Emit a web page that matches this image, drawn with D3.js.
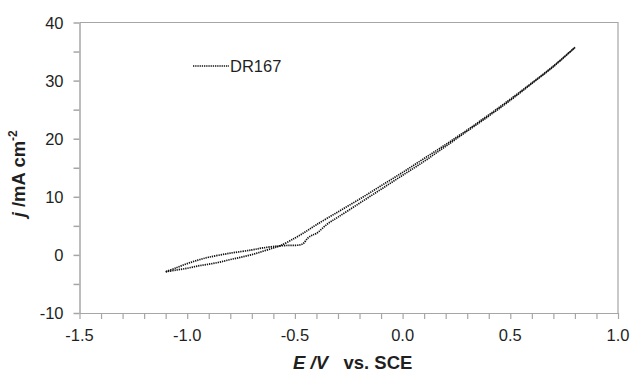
<!DOCTYPE html>
<html>
<head>
<meta charset="utf-8">
<script src="https://cdn.jsdelivr.net/npm/d3@7"></script>
<style>
  html, body { margin: 0; padding: 0; background: #fff; }
  svg { display: block; font-family: "Liberation Sans", Arial, sans-serif; }
</style>
</head>
<body>
<svg id="chart" width="634" height="381"></svg>
<script>
// Cyclic voltammogram of DR167: forward sweep (cathodic -> anodic) and return sweep
const forwardE = [-1.10, -1.05, -1.00, -0.95, -0.90, -0.85, -0.80, -0.75, -0.70, -0.65, -0.60, -0.57, -0.50, -0.45, -0.40, -0.30, -0.20, -0.10, 0.00, 0.10, 0.20, 0.30, 0.40, 0.50, 0.60, 0.70, 0.80];
const forwardJ = [-2.9, -2.6, -2.3, -1.9, -1.6, -1.25, -0.8, -0.4, 0.05, 0.6, 1.2, 1.55, 2.9, 4.0, 5.2, 7.4, 9.6, 11.9, 14.2, 16.6, 19.0, 21.5, 24.1, 26.8, 29.6, 32.5, 35.7];

const returnE = [0.80, 0.70, 0.60, 0.50, 0.40, 0.30, 0.20, 0.10, 0.00, -0.10, -0.20, -0.30, -0.35, -0.40, -0.42, -0.44, -0.46, -0.48, -0.52, -0.57, -0.65, -0.70, -0.80, -0.90, -0.95, -1.00, -1.05, -1.10];
const returnJ = [35.7, 32.4, 29.5, 26.6, 23.9, 21.3, 18.7, 16.1, 13.7, 11.3, 8.9, 6.5, 5.3, 3.7, 3.4, 2.9, 2.0, 1.7, 1.65, 1.55, 1.2, 0.85, 0.3, -0.4, -0.9, -1.5, -2.2, -2.9];

const xTicks = [-1.5, -1.0, -0.5, 0.0, 0.5, 1.0];
const yTicks = [-10, 0, 10, 20, 30, 40];
const seriesName = "DR167";

const svg = d3.select("#chart");
const margin = { left: 79.5, right: 16, top: 22.5, bottom: 68 };
const W = 634, H = 381;

const x = d3.scaleLinear().domain([-1.5, 1.0]).range([margin.left, W - margin.right]);
const y = d3.scaleLinear().domain([-10, 40]).range([H - margin.bottom, margin.top]);

const axisColor = "#a6a6a6";
const textColor = "#1f1f1f";
// plain hyphen for negative numbers
const fmtX = d => d3.format(".1f")(d).replace("\u2212", "-");

// plot frame (top and right edges)
svg.append("path")
  .attr("d", `M${x(-1.5)},${y(40)}H${x(1.0)}V${y(-10)}`)
  .attr("fill", "none").attr("stroke", axisColor).attr("stroke-width", 1.2);

// x axis with minor ticks every 0.1
const xAxis = d3.axisBottom(x)
  .tickValues(d3.range(-15, 11).map(d => d / 10))
  .tickSize(6).tickSizeOuter(0).tickFormat("");
const gx = svg.append("g").attr("transform", `translate(0,${y(-10)})`).call(xAxis);
gx.selectAll("path, line").attr("stroke", axisColor).attr("stroke-width", 1.2);

// y axis with minor ticks every 5
const yAxis = d3.axisLeft(y)
  .tickValues(d3.range(-10, 41, 5))
  .tickSize(6).tickSizeOuter(0).tickFormat("");
const gy = svg.append("g").attr("transform", `translate(${x(-1.5)},0)`).call(yAxis);
gy.selectAll("path, line").attr("stroke", axisColor).attr("stroke-width", 1.5);

// tick labels
svg.append("g").selectAll("text").data(xTicks).join("text")
  .attr("x", d => x(d)).attr("y", y(-10) + 28)
  .attr("text-anchor", "middle").attr("font-size", 16.5).attr("fill", textColor)
  .text(fmtX);

svg.append("g").selectAll("text").data(yTicks).join("text")
  .attr("x", x(-1.5) - 16).attr("y", d => y(d) + 6)
  .attr("text-anchor", "end").attr("font-size", 16.5).attr("fill", textColor)
  .text(d => String(d));

// axis titles
const xt = svg.append("text")
  .attr("x", (x(-1.5) + x(1.0)) / 2 + 4).attr("y", 369)
  .attr("text-anchor", "middle").attr("font-size", 18.5).attr("font-weight", "bold").attr("fill", textColor);
xt.append("tspan").attr("font-style", "italic").text("E /V");
xt.append("tspan").attr("xml:space", "preserve").text("   vs. SCE");

const yt = svg.append("text")
  .attr("transform", `translate(25,${(y(40) + y(-10)) / 2 + 6}) rotate(-90)`)
  .attr("text-anchor", "middle").attr("font-size", 18.5).attr("font-weight", "bold").attr("fill", textColor);
yt.append("tspan").attr("font-style", "italic").text("j");
yt.append("tspan").text(" /mA cm");
yt.append("tspan").attr("font-size", 12).attr("dy", -8).text("-2");

// voltammogram curves
const lineAny = d3.line().x(d => x(d[0])).y(d => y(d[1])).curve(d3.curveCatmullRom.alpha(0.5));

const fwd = forwardE.map((e, i) => [e, forwardJ[i]]);
const ret = returnE.map((e, i) => [e, returnJ[i]]);

const curveStyle = sel => sel.attr("fill", "none").attr("stroke", "#111")
  .attr("stroke-width", 1.7).attr("stroke-dasharray", "1.3,0.9");

svg.append("path").attr("d", lineAny(fwd)).call(curveStyle);
svg.append("path").attr("d", lineAny(ret)).call(curveStyle);

// legend
svg.append("line").attr("x1", 193).attr("x2", 229).attr("y1", 66).attr("y2", 66).call(curveStyle);
svg.append("text").attr("x", 230).attr("y", 72).attr("font-size", 16.5).attr("fill", textColor).text(seriesName);
</script>
</body>
</html>
